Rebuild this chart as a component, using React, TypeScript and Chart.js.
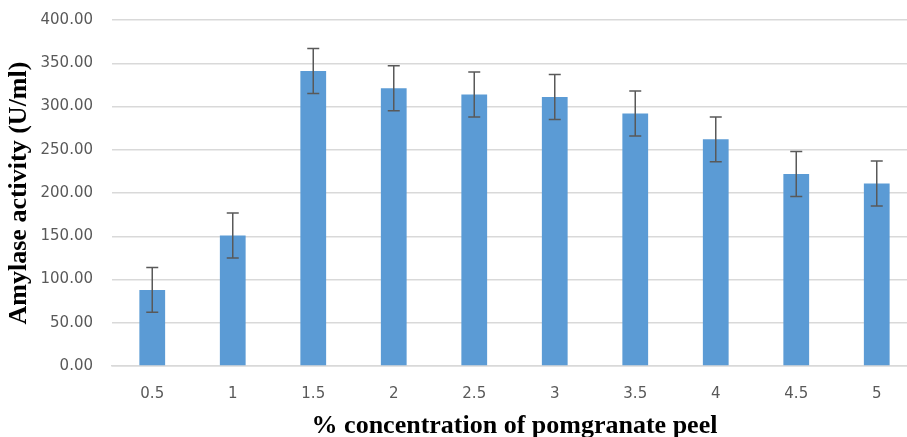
import { useEffect, useRef } from 'react';
import { Chart, registerables } from 'chart.js';

Chart.register(...registerables);

const concentrations = ['0.5', '1', '1.5', '2', '2.5', '3', '3.5', '4', '4.5', '5'];
const activity = [88, 151, 341, 321, 314, 311, 292, 262, 222, 211];
const errors = [26, 26, 26, 26, 26, 26, 26, 26, 26, 26];

const errorBars = {
  id: 'errorBars',
  afterDatasetsDraw(chart: any) {
    const { ctx } = chart;
    const y = chart.scales.y;
    const meta = chart.getDatasetMeta(0);
    ctx.save();
    ctx.strokeStyle = '#595959';
    ctx.lineWidth = 1.5;
    meta.data.forEach((bar: any, i: number) => {
      const hi = y.getPixelForValue(activity[i] + errors[i]);
      const lo = y.getPixelForValue(activity[i] - errors[i]);
      const cap = 6;
      ctx.beginPath();
      ctx.moveTo(bar.x, hi);
      ctx.lineTo(bar.x, lo);
      ctx.moveTo(bar.x - cap, hi);
      ctx.lineTo(bar.x + cap, hi);
      ctx.moveTo(bar.x - cap, lo);
      ctx.lineTo(bar.x + cap, lo);
      ctx.stroke();
    });
    ctx.restore();
  },
};

export default function App() {
  const canvasRef = useRef<HTMLCanvasElement>(null);
  const chartRef = useRef<Chart | null>(null);

  useEffect(() => {
    if (!canvasRef.current) return;
    chartRef.current?.destroy();

    chartRef.current = new Chart(canvasRef.current, {
      type: 'bar',
      data: {
        labels: concentrations,
        datasets: [
          {
            label: 'Amylase activity',
            data: activity,
            backgroundColor: '#5B9BD5',
            categoryPercentage: 1,
            barPercentage: 0.32,
          },
        ],
      },
      options: {
        responsive: false,
        maintainAspectRatio: false,
        animation: false,
        layout: { padding: { top: 0, right: 8, bottom: 0, left: 0 } },
        plugins: {
          legend: { display: false },
          tooltip: { enabled: false },
        },
        scales: {
          x: {
            grid: { display: false },
            border: { color: '#d9d9d9', width: 1.5 },
            ticks: {
              color: '#595959',
              font: { family: 'DejaVu Sans', size: 15 },
              padding: 11,
            },
            title: {
              display: true,
              text: '% concentration of pomgranate peel',
              color: '#000',
              font: { family: 'Liberation Serif', size: 26, weight: 'bold' },
              padding: { top: 0, bottom: 8 },
            },
            afterFit: (s: any) => {
              s.height = 84;
            },
          },
          y: {
            min: 0,
            max: 400,
            border: { display: false },
            grid: { color: '#d9d9d9', lineWidth: 1.5, drawTicks: false },
            ticks: {
              stepSize: 50,
              color: '#595959',
              font: { family: 'DejaVu Sans', size: 15 },
              padding: 19,
              callback: (v: any) => Number(v).toFixed(2),
            },
            title: {
              display: true,
              text: 'Amylase activity (U/ml)',
              color: '#000',
              font: { family: 'Liberation Serif', size: 26, weight: 'bold' },
              padding: { top: 4, bottom: 0 },
            },
            afterFit: (s: any) => {
              s.width = 112;
              s.paddingTop = 20;
              s.paddingBottom = 0;
            },
          },
        },
      },
      plugins: [errorBars],
    });

    return () => {
      chartRef.current?.destroy();
      chartRef.current = null;
    };
  }, []);

  return (
    <div
      style={{
        position: 'fixed',
        left: 0,
        top: 0,
        width: 907,
        height: 437,
        overflow: 'hidden',
        background: '#fff',
      }}
    >
      <canvas ref={canvasRef} width={925} height={450} style={{ width: 925, height: 450 }} />
    </div>
  );
}
